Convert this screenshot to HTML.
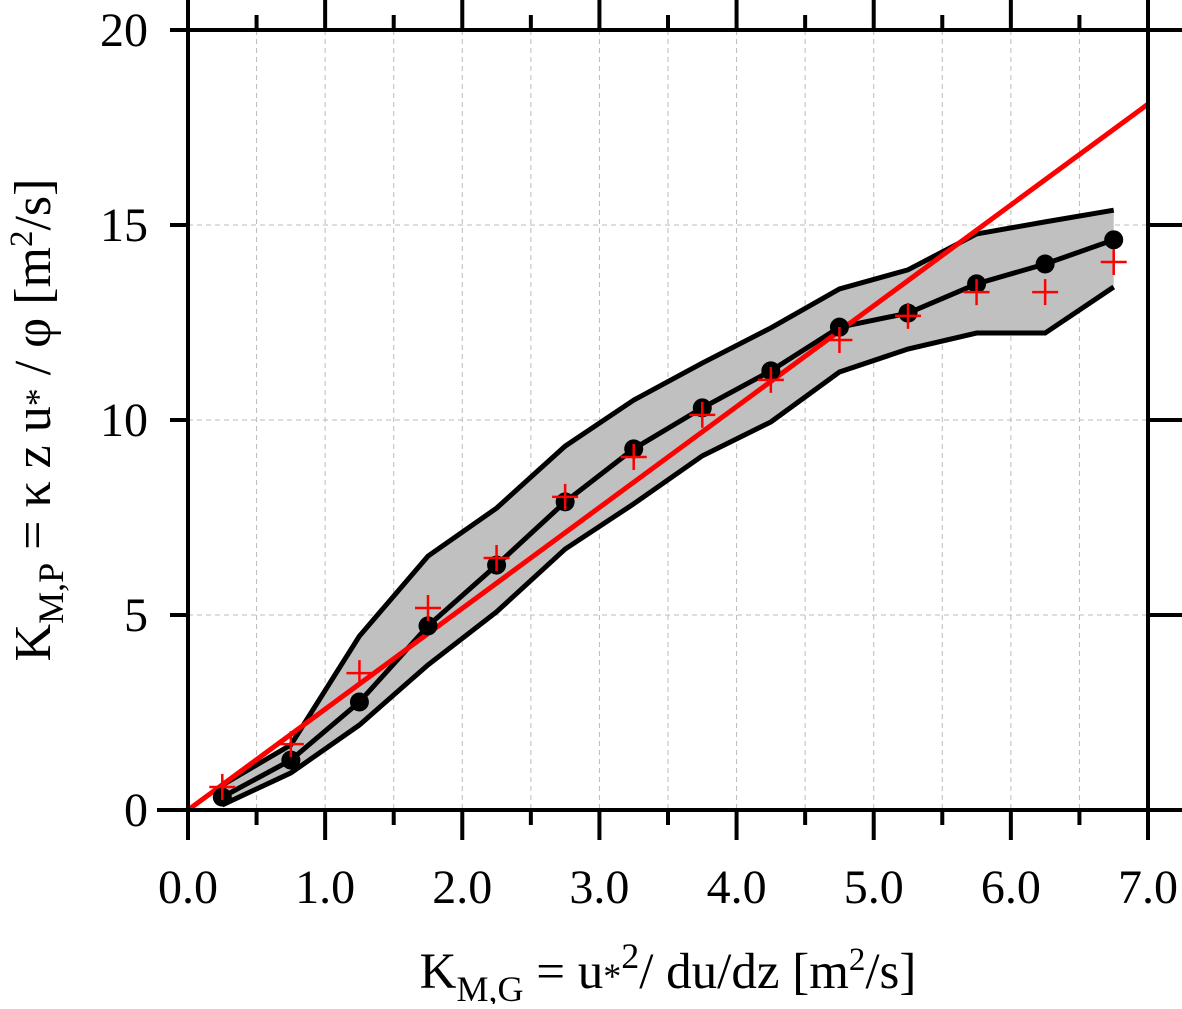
<!DOCTYPE html>
<html><head><meta charset="utf-8"><style>
html,body{margin:0;padding:0;background:#fff}
svg text{font-family:"Liberation Serif",serif;fill:#000}
</style></head><body>
<svg id="chart" width="1182" height="1004" xmlns="http://www.w3.org/2000/svg">
<g id="grid"></g>
<g id="band"></g>
<g id="series"></g>
<g id="axes"></g>
<text transform="translate(50,420) rotate(-90)" text-anchor="middle" style="font-size:52px">K<tspan style="font-size:36px" dy="13">M,P</tspan><tspan dy="-13"> = κ z u</tspan><tspan style="font-size:36px">*</tspan> / φ [m<tspan style="font-size:33px" dy="-18">2</tspan><tspan dy="18">/s]</tspan></text>
<text x="668" y="988" text-anchor="middle" style="font-size:51px">K<tspan style="font-size:36px" dy="13">M,G</tspan><tspan dy="-13"> = u</tspan><tspan style="font-size:36px">*</tspan><tspan style="font-size:36px" dy="-20">2</tspan><tspan dy="20">/ du/dz [m</tspan><tspan style="font-size:33px" dy="-18">2</tspan><tspan dy="18">/s]</tspan></text>
</svg>
<script>
const xs=[0.25,0.75,1.25,1.75,2.25,2.75,3.25,3.75,4.25,4.75,5.25,5.75,6.25,6.75];
const meanVals=[0.33,1.28,2.77,4.72,6.28,7.9,9.26,10.31,11.26,12.38,12.74,13.49,14.0,14.62];
const upperVals=[0.64,1.67,4.46,6.51,7.74,9.33,10.51,11.46,12.36,13.36,13.85,14.77,15.08,15.38];
const lowerVals=[0.13,0.95,2.18,3.72,5.08,6.69,7.85,9.08,9.95,11.23,11.82,12.23,12.23,13.41];
const crossVals=[0.59,1.69,3.51,5.18,6.46,8.03,9.05,10.13,11.03,12.05,12.67,13.28,13.28,14.05];
const fitLine=[[0,0],[7,18.1]];
const xTicks=[0,1,2,3,4,5,6,7];
const xTickLabels=["0.0","1.0","2.0","3.0","4.0","5.0","6.0","7.0"];
const yTicks=[0,5,10,15,20];
const yTickLabels=["0","5","10","15","20"];
const NS="http://www.w3.org/2000/svg";
const X=v=>188+v*960/7, Y=v=>810-v*39;
function mk(p,tag,a){const e=document.createElementNS(NS,tag);for(const k in a)e.setAttribute(k,a[k]);p.appendChild(e);return e;}
const grid=document.getElementById('grid'),band=document.getElementById('band'),ser=document.getElementById('series'),ax=document.getElementById('axes');
for(let v=0.5;v<7;v+=0.5){const l=mk(grid,'line',{x1:X(v),x2:X(v),y1:30,y2:810,stroke:'#bbb','stroke-width':1,'stroke-dasharray':'5,4'});

}
for(const v of [5,10,15]){const l=mk(grid,'line',{x1:188,x2:1148,y1:Y(v),y2:Y(v),stroke:'#bbb','stroke-width':1,'stroke-dasharray':'5,4'});

}
let pts=xs.map((x,i)=>X(x)+','+Y(upperVals[i])).concat(xs.map((x,i)=>X(x)+','+Y(lowerVals[i])).reverse());
const poly=mk(band,'polygon',{points:pts.join(' '),fill:'#c0c0c0',stroke:'none'});


const up=mk(band,'polyline',{points:xs.map((x,i)=>X(x)+','+Y(upperVals[i])).join(' '),fill:'none',stroke:'#000','stroke-width':5});


const lo=mk(band,'polyline',{points:xs.map((x,i)=>X(x)+','+Y(lowerVals[i])).join(' '),fill:'none',stroke:'#000','stroke-width':5});


const ml=mk(ser,'polyline',{points:xs.map((x,i)=>X(x)+','+Y(meanVals[i])).join(' '),fill:'none',stroke:'#000','stroke-width':5});


const fl=mk(ser,'line',{x1:X(fitLine[0][0]),y1:Y(fitLine[0][1]),x2:X(fitLine[1][0]),y2:Y(fitLine[1][1]),stroke:'#f00','stroke-width':5});


xs.forEach((x,i)=>{const c=mk(ser,'circle',{cx:X(x),cy:Y(meanVals[i]),r:9.5,fill:'#000'});


const g=mk(ser,'path',{d:`M${X(x)-13},${Y(crossVals[i])}h26M${X(x)},${Y(crossVals[i])-13}v26`,stroke:'#f00','stroke-width':2.5,fill:'none'});

});
const frame=mk(ax,'path',{d:'M157,810H1148M188,0V810M188,30H1182M1148,0V810',stroke:'#000','stroke-width':4,fill:'none'});


for(let k=0;k<=14;k++){const v=k/2,maj=k%2==0;
const t=mk(ax,'path',{d:`M${X(v)},810v${maj?30:15}M${X(v)},30v${maj?-30:-15}`,stroke:'#000','stroke-width':4});

}
xTicks.forEach((v,i)=>{const t=mk(ax,'text',{x:X(v),y:903,'text-anchor':'middle',style:'font-size:48px'});t.textContent=xTickLabels[i];

});
yTicks.forEach((v,i)=>{const t=mk(ax,'path',{d:`M170,${Y(v)}H188M1148,${Y(v)}H1182`,stroke:'#000','stroke-width':4});


const l=mk(ax,'text',{x:148,y:Y(v)+16,'text-anchor':'end',style:'font-size:48px'});l.textContent=yTickLabels[i];

});
</script>
</body></html>
